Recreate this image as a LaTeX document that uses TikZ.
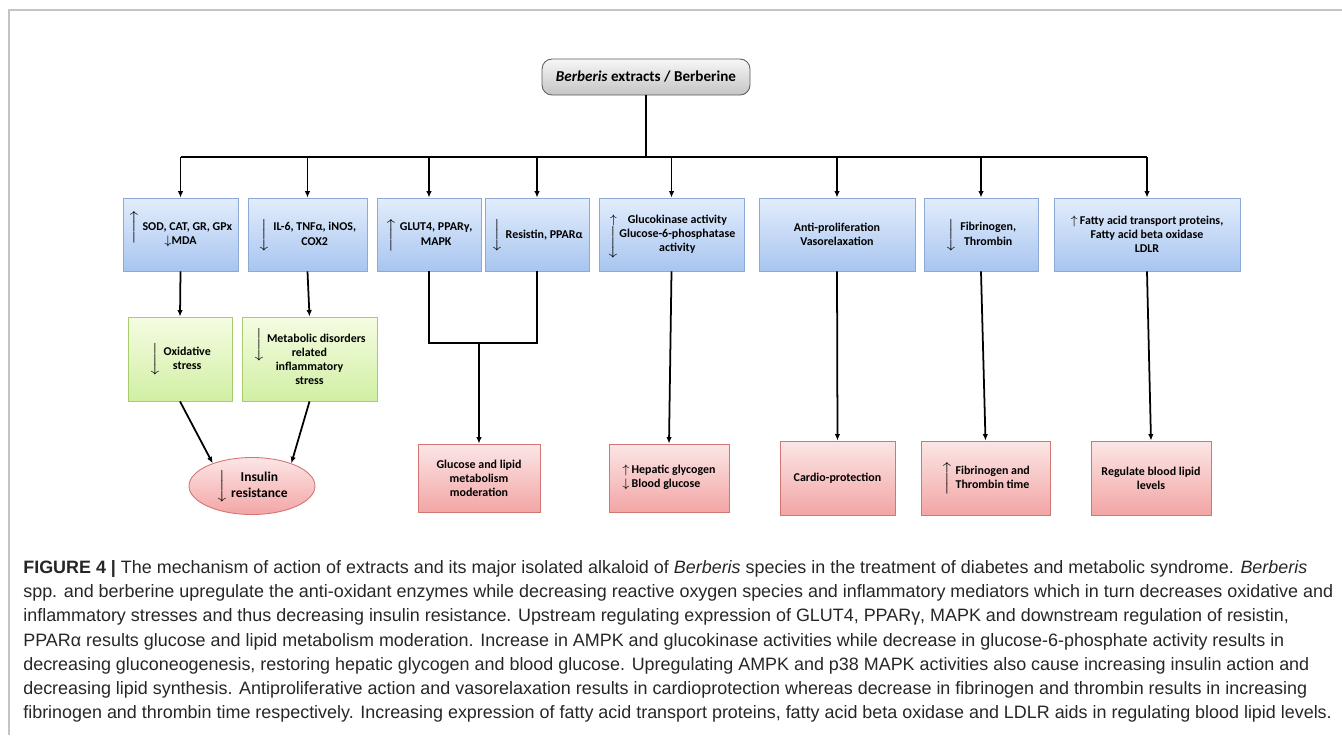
\documentclass[tikz,border=0pt]{standalone}
\usepackage{fontspec}
\setmainfont{Liberation Sans}
\newfontfamily\boxfont{Carlito}
\usepackage{tikz}
\usetikzlibrary{arrows.meta,shapes.geometric}
\definecolor{framegray}{HTML}{C4C4C4}
\definecolor{captext}{HTML}{262626}
\definecolor{bluetop}{HTML}{E2EDFC}
\definecolor{bluebot}{HTML}{A8C5F0}
\definecolor{blueline}{HTML}{8DA9D6}
\definecolor{greentop}{HTML}{F5FCE2}
\definecolor{greenbot}{HTML}{D1EFA4}
\definecolor{greenline}{HTML}{A8CB6E}
\definecolor{pinktop}{HTML}{FCE6E6}
\definecolor{pinkbot}{HTML}{F3A5A5}
\definecolor{pinkline}{HTML}{D17575}
\definecolor{graytop}{HTML}{F7F7F7}
\definecolor{graybot}{HTML}{C4C4C4}
\definecolor{grayline}{HTML}{5C5C5C}
\newcommand\arrup{$\uparrow$}
\newcommand\arrdn{$\downarrow$}
\newcommand\bigup{$\Big\uparrow$}
\newcommand\bigdn{$\Big\downarrow$}
\tikzset{
  box/.style={rectangle, line width=0.5pt, inner sep=1pt, align=center,
    font=\boxfont\bfseries\fontsize{6.8}{8}\selectfont},
  bluebox/.style={box, draw=blueline, top color=bluetop, bottom color=bluebot, minimum height=14.6mm},
  greenbox/.style={box, draw=greenline, top color=greentop, bottom color=greenbot, minimum height=16.8mm},
  pinkbox/.style={box, draw=pinkline, top color=pinktop, bottom color=pinkbot, minimum height=14.8mm},
  srcbox/.style={box, draw=grayline, top color=graytop, bottom color=graybot, rounded corners=2mm,
    minimum width=41.6mm, minimum height=7.2mm, font=\boxfont\bfseries\fontsize{8.6}{10}\selectfont},
  insul/.style={ellipse, draw=pinkline, line width=0.5pt, top color=pinktop, bottom color=pinkbot,
    inner sep=0pt, minimum width=25.2mm, minimum height=11.4mm,
    font=\boxfont\bfseries\fontsize{7.7}{9.4}\selectfont},
  link/.style={draw=black, line width=1pt},
  arr/.style={link, -{Latex[length=1.3mm,width=1.1mm]}},
  capt/.style={inner sep=0pt, align=left, text=captext, font=\fontsize{10.2}{13.8}\selectfont},
  framel/.style={draw=framegray, line width=0.7pt}
}

\begin{document}
\begin{tikzpicture}[x=0.2mm, y=-0.2mm]
  \useasboundingbox (0,0) rectangle (1342,735);
  \draw[framel] (9,735) -- (9,10) -- (1342,10);

  % source
  \node[srcbox] (src) at (646,77) {\textit{Berberis} extracts / Berberine};
  \coordinate (bus) at (646,157);

  % first row
  \node[bluebox, minimum width=23mm] (sod) at (180.5,234.5) {\smash{\bigup}\,SOD, CAT, GR, GPx\\\arrdn MDA};
  \node[bluebox, minimum width=23.8mm] (inf) at (307.5,234.5) {\bigdn\ \begin{tabular}{@{}c@{}}IL-6, TNFα, iNOS,\\COX2\end{tabular}};
  \node[bluebox, minimum width=20.8mm] (glut) at (429,234.5) {\bigup\ \begin{tabular}{@{}c@{}}GLUT4, PPARγ,\\MAPK\end{tabular}};
  \node[bluebox, minimum width=20.8mm] (res) at (537,234.5) {\bigdn\ Resistin, PPARα};
  \node[bluebox, minimum width=29mm] (gk) at (671.5,234.5) {\begin{tabular}{@{}c@{}c@{}}\arrup & Glucokinase activity\\ \smash{\raisebox{-1.4ex}{\bigdn}} & Glucose-6-phosphatase\\ & activity\end{tabular}};
  \node[bluebox, minimum width=31.2mm] (anti) at (837,234.5) {Anti-proliferation\\Vasorelaxation};
  \node[bluebox, minimum width=22.8mm] (fib) at (981,234.5) {\bigdn\ \begin{tabular}{@{}c@{}}Fibrinogen,\\Thrombin\end{tabular}};
  \node[bluebox, minimum width=37.2mm] (fat) at (1147,234.5) {\smash{\arrup}\,Fatty acid transport proteins,\\Fatty acid beta oxidase\\LDLR};

  % stresses
  \node[greenbox, minimum width=20.8mm] (ox) at (180,359) {\bigdn\ \begin{tabular}{@{}c@{}}Oxidative\\stress\end{tabular}};
  \node[greenbox, minimum width=27mm] (met) at (309.5,359) {\smash{\raisebox{-1ex}{\bigdn}}\,Metabolic disorders\\related\\inflammatory\\stress};
  \node[insul] (ins) at (252,486) {\bigdn\ \begin{tabular}{@{}c@{}}Insulin\\resistance\end{tabular}};

  % outcomes
  \node[pinkbox, minimum width=24.4mm, minimum height=13.6mm] (glc) at (479,478) {Glucose and lipid\\metabolism\\moderation};
  \node[pinkbox, minimum width=24mm, minimum height=13.6mm] (hep) at (669,478) {\begin{tabular}{@{}c@{\,}l@{}}\arrup & Hepatic glycogen\\ \arrdn & Blood glucose\end{tabular}};
  \node[pinkbox, minimum width=23mm] (card) at (837.5,478) {Cardio-protection};
  \node[pinkbox, minimum width=25.8mm] (fibt) at (985.5,478) {\bigup\ \begin{tabular}{@{}l@{}}Fibrinogen and\\Thrombin time\end{tabular}};
  \node[pinkbox, minimum width=24mm] (lip) at (1151,478) {Regulate blood lipid\\levels};

  % connectors
  \draw[link] (src.south) -- (bus);
  \draw[link] (sod.north |- bus) -- (fat.north |- bus);
  \draw[arr] (sod.north |- bus) -- (sod.north);
  \draw[arr] (inf.north |- bus) -- (inf.north);
  \draw[arr] (glut.north |- bus) -- (glut.north);
  \draw[arr] (res.north |- bus) -- (res.north);
  \draw[arr] (gk.north |- bus) -- (gk.north);
  \draw[arr] (anti.north |- bus) -- (anti.north);
  \draw[arr] (fib.north |- bus) -- (fib.north);
  \draw[arr] (fat.north |- bus) -- (fat.north);
  \draw[arr] (sod.south) -- (ox.north);
  \draw[arr] (inf.south) -- (met.north);
  \draw[arr] (ox.south) -- (ins.150);
  \draw[arr] (met.south) -- (ins.30);
  \coordinate (join) at (483,343);
  \draw[link] (glut.south) |- (join) -| (res.south);
  \draw[arr] (glc.north |- join) -- (glc.north);
  \draw[arr] (gk.south) -- (hep.north);
  \draw[arr] (anti.south) -- (card.north);
  \draw[arr] (fib.south) -- (fibt.north);
  \draw[arr] (fat.south) -- (lip.north);

  % caption
  \node[capt, anchor=north west] (cap) at (23,560) {\textbf{FIGURE 4 |} The mechanism of action of extracts and its major isolated alkaloid of \textit{Berberis} species in the treatment of diabetes and metabolic syndrome. \textit{Berberis}\\
spp. and berberine upregulate the anti-oxidant enzymes while decreasing reactive oxygen species and inflammatory mediators which in turn decreases oxidative and\\
inflammatory stresses and thus decreasing insulin resistance. Upstream regulating expression of GLUT4, PPARγ, MAPK and downstream regulation of resistin,\\
PPARα results glucose and lipid metabolism moderation. Increase in AMPK and glucokinase activities while decrease in glucose-6-phosphate activity results in\\
decreasing gluconeogenesis, restoring hepatic glycogen and blood glucose. Upregulating AMPK and p38 MAPK activities also cause increasing insulin action and\\
decreasing lipid synthesis. Antiproliferative action and vasorelaxation results in cardioprotection whereas decrease in fibrinogen and thrombin results in increasing\\
fibrinogen and thrombin time respectively. Increasing expression of fatty acid transport proteins, fatty acid beta oxidase and LDLR aids in regulating blood lipid levels.};
\end{tikzpicture}
\end{document}
